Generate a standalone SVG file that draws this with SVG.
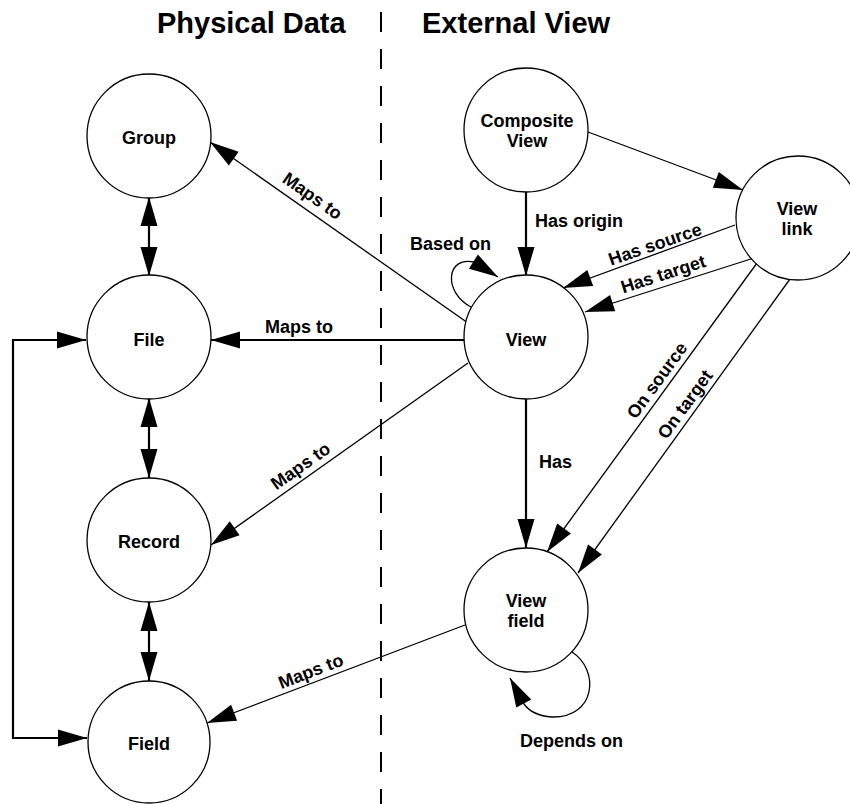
<svg xmlns="http://www.w3.org/2000/svg" width="850" height="804" viewBox="0 0 850 804">
<defs>
<marker id="ah" markerUnits="userSpaceOnUse" markerWidth="30" markerHeight="18" refX="29" refY="9" orient="auto-start-reverse" overflow="visible">
<path d="M0,0.5 L29,9 L0,17.5 Z" fill="#000"/>
</marker>
</defs>
<style>
text{font-family:"Liberation Sans",Arial,Helvetica,sans-serif;font-weight:bold;fill:#000}
.title{font-size:29px}
.lbl{font-size:18px}
.nt{font-size:18px;text-anchor:middle}
circle{fill:#fff;stroke:#000;stroke-width:1.3}
.thick{stroke:#000;stroke-width:2.2;fill:none}
.thin{stroke:#000;stroke-width:1.3;fill:none}
.dash{stroke:#000;stroke-width:2;stroke-dasharray:20 17;fill:none}
</style>
<rect width="850" height="804" fill="#fff"/>
<text class="title" x="157" y="33">Physical Data</text>
<text class="title" x="422" y="33">External View</text>
<line class="dash" x1="381" y1="12" x2="381" y2="804"/>
<g id="connectors">
<line class="thick" x1="149" y1="197" x2="149" y2="276" marker-start="url(#ah)" marker-end="url(#ah)"/>
<line class="thick" x1="149" y1="398" x2="149" y2="478" marker-start="url(#ah)" marker-end="url(#ah)"/>
<line class="thick" x1="149" y1="602" x2="149" y2="681" marker-start="url(#ah)" marker-end="url(#ah)"/>
<path class="thick" d="M86,340 L13,340 L13,738 L87,738" marker-start="url(#ah)" marker-end="url(#ah)"/>
<line class="thin" x1="468" y1="323" x2="210" y2="142" marker-end="url(#ah)"/>
<line class="thick" x1="465" y1="340" x2="211" y2="340" marker-end="url(#ah)"/>
<line class="thin" x1="468" y1="363" x2="211" y2="545" marker-end="url(#ah)"/>
<line class="thin" x1="588" y1="132" x2="743" y2="190" marker-end="url(#ah)"/>
<line class="thick" x1="526" y1="192" x2="526" y2="276" marker-end="url(#ah)"/>
<path class="thin" d="M471,307 C443,292 446,256 474,262 L498,277" marker-end="url(#ah)"/>
<line class="thin" x1="735" y1="225" x2="563" y2="288" marker-end="url(#ah)"/>
<line class="thin" x1="757" y1="257" x2="585" y2="312" marker-end="url(#ah)"/>
<line class="thin" x1="757" y1="263" x2="547" y2="552" marker-end="url(#ah)"/>
<line class="thin" x1="790" y1="279" x2="578" y2="573" marker-end="url(#ah)"/>
<line class="thick" x1="526" y1="399" x2="526" y2="548" marker-end="url(#ah)"/>
<line class="thin" x1="465" y1="625" x2="207" y2="723" marker-end="url(#ah)"/>
<path class="thin" d="M572,652 C600,670 596,718 552,717 C538,716 529,711 524,704 L510,678" marker-end="url(#ah)"/>
<text class="lbl" x="309" y="201" text-anchor="middle" transform="rotate(35 309 201)">Maps to</text>
<text class="lbl" x="299" y="333" text-anchor="middle">Maps to</text>
<text class="lbl" x="304" y="471" text-anchor="middle" transform="rotate(-35 304 471)">Maps to</text>
<text class="lbl" x="313" y="677" text-anchor="middle" transform="rotate(-21 313 677)">Maps to</text>
<text class="lbl" x="535" y="227">Has origin</text>
<text class="lbl" x="410" y="250">Based on</text>
<text class="lbl" x="657" y="250" text-anchor="middle" transform="rotate(-19 657 250)">Has source</text>
<text class="lbl" x="665" y="280" text-anchor="middle" transform="rotate(-18 665 280)">Has target</text>
<text class="lbl" x="662" y="384" text-anchor="middle" transform="rotate(-54 662 384)">On source</text>
<text class="lbl" x="690" y="408" text-anchor="middle" transform="rotate(-54 690 408)">On target</text>
<text class="lbl" x="539" y="468">Has</text>
<text class="lbl" x="520" y="747">Depends on</text>
</g>
<g id="group"><circle cx="149" cy="136" r="62"/><text class="nt" x="149" y="144">Group</text></g>
<g id="file"><circle cx="149" cy="337" r="62"/><text class="nt" x="149" y="346">File</text></g>
<g id="record"><circle cx="149" cy="540" r="62"/><text class="nt" x="149" y="548">Record</text></g>
<g id="field"><circle cx="149" cy="742" r="61"/><text class="nt" x="149" y="750">Field</text></g>
<g id="composite-view"><circle cx="526" cy="130" r="62"/><text class="nt" x="527" y="127">Composite</text><text class="nt" x="527" y="147">View</text></g>
<g id="view-link"><circle cx="798" cy="218" r="62"/><text class="nt" x="797" y="215">View</text><text class="nt" x="797" y="235">link</text></g>
<g id="view"><circle cx="526" cy="337" r="62"/><text class="nt" x="526" y="346">View</text></g>
<g id="view-field"><circle cx="526" cy="610" r="62"/><text class="nt" x="526" y="607">View</text><text class="nt" x="526" y="627">field</text></g>
</svg>
